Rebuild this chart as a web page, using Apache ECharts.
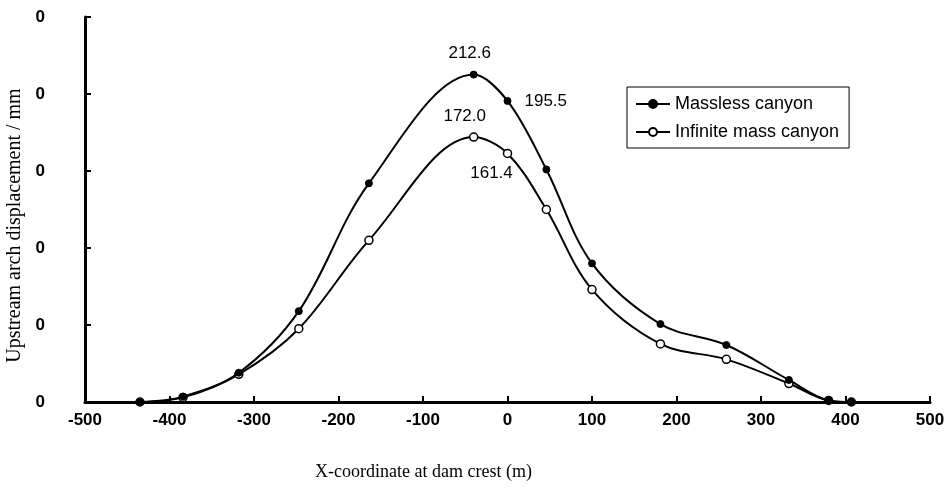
<!DOCTYPE html>
<html>
<head>
<meta charset="utf-8">
<script src="https://cdn.jsdelivr.net/npm/echarts@6/dist/echarts.min.js"></script>
<style>
  html, body { margin: 0; padding: 0; background: #fff; }
  #chart { width: 951px; height: 497px; }
</style>
</head>
<body>
<div id="chart"></div>
<script>
// x positions along dam crest (m)
const xCoords = [-435, -384, -318, -247, -164, -40, 0, 46, 100, 181, 259, 333, 380, 407]
// upstream arch displacement (mm)
const massless = [0, 3.5, 19, 59, 142, 212.6, 195.5, 151, 90, 50.6, 37, 14.3, 1, 0]
const infiniteMass = [0, 3, 18, 47.6, 105, 172.0, 161.4, 125, 73, 37.7, 27.7, 12, 1, 0]
const xTicks = [-500, -400, -300, -200, -100, 0, 100, 200, 300, 400, 500]
const yTicks = [0, 50, 100, 150, 200, 250]

const seriesNames = ['Massless canyon', 'Infinite mass canyon']

// which points carry a value label, and where it sits
const labelSpots = {
  0: { 5: { position: 'top', offset: [-4, -4] }, 6: { position: 'right', distance: 13 } },
  1: { 5: { position: 'top', offset: [-9, -3] }, 6: { position: 'bottom', offset: [-16, 2] } }
}

const buildData = (values, s) => values.map((v, i) => {
  const spot = labelSpots[s][i]
  if (!spot) return [xCoords[i], v]
  return {
    value: [xCoords[i], v],
    label: Object.assign({
      show: true,
      formatter: v.toFixed(1),
      color: '#000',
      fontSize: 17,
      fontFamily: 'Liberation Sans, Arial, sans-serif'
    }, spot)
  }
})

const chart = echarts.init(document.getElementById('chart'))

const option = {
  animation: false,
  backgroundColor: '#fff',
  grid: {
    left: 85,
    right: 21,
    top: 17,
    bottom: 95,
    outerBoundsMode: 'none'
  },
  legend: {
    orient: 'vertical',
    left: 627,
    top: 87,
    data: seriesNames,
    borderColor: '#000',
    borderWidth: 1,
    padding: [8, 10, 7, 8],
    itemGap: 10,
    itemWidth: 34,
    itemHeight: 10,
    textStyle: {
      color: '#000',
      fontSize: 18,
      fontFamily: 'Liberation Sans, Arial, sans-serif'
    }
  },
  xAxis: {
    type: 'value',
    min: -500,
    max: 500,
    interval: 100,
    name: 'X-coordinate at dam crest (m)',
    nameLocation: 'middle',
    nameGap: 61,
    nameTextStyle: {
      color: '#000',
      fontSize: 18,
      fontFamily: 'Liberation Serif, Times New Roman, serif',
      padding: [0, 168, 0, 0]
    },
    axisLine: { onZero: false, lineStyle: { color: '#000', width: 3 } },
    axisTick: { inside: true, length: 6, lineStyle: { color: '#000', width: 2 } },
    axisLabel: {
      color: '#000',
      fontSize: 17,
      fontWeight: 'bold',
      fontFamily: 'Liberation Sans, Arial, sans-serif',
      margin: 10,
      customValues: xTicks
    },
    splitLine: { show: false }
  },
  yAxis: {
    type: 'value',
    min: 0,
    max: 250,
    interval: 50,
    name: 'Upstream arch displacement / mm',
    nameLocation: 'middle',
    nameGap: 60,
    nameTextStyle: {
      color: '#000',
      fontSize: 20,
      fontFamily: 'Liberation Serif, Times New Roman, serif',
      padding: [0, 32, 0, 0]
    },
    axisLine: { show: true, onZero: false, lineStyle: { color: '#000', width: 3 } },
    axisTick: { show: true, inside: true, length: 6, lineStyle: { color: '#000', width: 2 } },
    axisLabel: {
      color: '#000',
      fontSize: 17,
      fontWeight: 'bold',
      fontFamily: 'Liberation Sans, Arial, sans-serif',
      margin: 40,
      customValues: yTicks,
      // the scanned figure only shows the last digit of each tick
      formatter: () => '0'
    },
    splitLine: { show: false }
  },
  series: [
    {
      name: seriesNames[0],
      type: 'line',
      smooth: 0.35,
      symbol: 'circle',
      symbolSize: 7,
      lineStyle: { color: '#000', width: 2 },
      itemStyle: { color: '#000', borderColor: '#000', borderWidth: 1 },
      data: buildData(massless, 0),
      z: 3
    },
    {
      name: seriesNames[1],
      type: 'line',
      smooth: 0.35,
      symbol: 'circle',
      symbolSize: 8,
      lineStyle: { color: '#000', width: 2 },
      itemStyle: { color: '#fff', borderColor: '#000', borderWidth: 1.5 },
      data: buildData(infiniteMass, 1),
      z: 2
    }
  ]
}

chart.setOption(option)
</script>
</body>
</html>
